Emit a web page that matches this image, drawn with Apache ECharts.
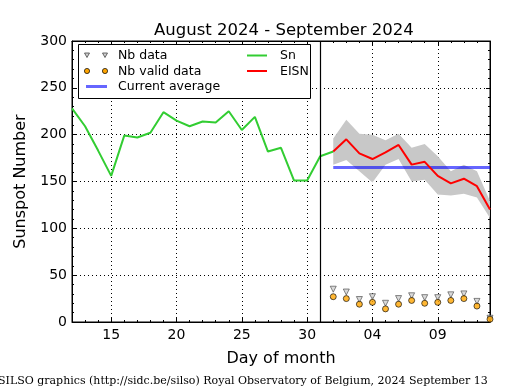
<!DOCTYPE html>
<html>
<head>
<meta charset="utf-8">
<script src="https://cdn.jsdelivr.net/npm/echarts@6/dist/echarts.min.js"></script>
<style>html,body{margin:0;padding:0;background:#fff;}#c{width:515px;height:390px;}</style>
</head>
<body>
<div id="c"></div>
<script>
// ---- data ----
const snDates = ['2024-08-12','2024-08-13','2024-08-14','2024-08-15','2024-08-16','2024-08-17','2024-08-18','2024-08-19','2024-08-20','2024-08-21','2024-08-22','2024-08-23','2024-08-24','2024-08-25','2024-08-26','2024-08-27','2024-08-28','2024-08-29','2024-08-30','2024-08-31','2024-09-01'];
const snValues = [228,209,183,156,199,197,202,224,215,209,214,213,225,205,219,182,186,151,151,177,182];

const eisnDates = ['2024-09-01','2024-09-02','2024-09-03','2024-09-04','2024-09-05','2024-09-06','2024-09-07','2024-09-08','2024-09-09','2024-09-10','2024-09-11','2024-09-12','2024-09-13'];
const eisnValues = [182,195,180,174,181,189,168,171,156,148,153,145,120];
const eisnUpper  = [196,216,201,200,194,201,186,190,177,161,168,161,129];
const eisnLower  = [168,173,161,149,168,174,150,152,136,135,137,133,111];
const nbData     = [35,32,24,27,20,25,28,26,26,29,30,22,4];
const nbValid    = [27,25,19,21,14,19,23,20,21,23,25,17,3];

const avgDates = ['2024-09-01','2024-09-13'];
const avgValue = 165;

const tickDates = ['2024-08-15','2024-08-20','2024-08-25','2024-08-30','2024-09-04','2024-09-09'];
const xStart = '2024-08-12', xEnd = '2024-09-13', splitDate = '2024-08-31';

// ---- helpers ----
function dayNum(s){ const p=s.split('-').map(Number); return Math.round((Date.UTC(p[0],p[1]-1,p[2])-Date.UTC(2024,6,31))/86400000); }
function fmt(v){ return v<=31 ? String(v) : String(v-31).padStart(2,'0'); }
const pair = (dates, vals) => dates.map((d,i)=>[dayNum(d), vals[i]]);
const xMin = dayNum(xStart), xMax = dayNum(xEnd);
const tickVals = tickDates.map(dayNum);
const FONT = 'DejaVu Sans';

const chart = echarts.init(document.getElementById('c'), null, {renderer:'canvas'});
const majorX = (pos, labels) => ({
  type:'value', position:pos, min:xMin, max:xMax,
  axisLine:{show:true, onZero:false, lineStyle:{color:'#000', width:1}},
  axisTick:{show:true, inside:true, length:4, customValues:tickVals, lineStyle:{color:'#000'}},
  axisLabel:{show:labels, customValues:tickVals, formatter:fmt, color:'#000', fontSize:14, fontFamily:FONT, margin:6},
  splitLine:{show:labels, lineStyle:{color:'#000', type:[1,3], width:1}},
  name: labels ? 'Day of month' : '', nameLocation:'middle', nameGap:29,
  nameTextStyle:{color:'#000', fontSize:16, fontFamily:FONT}
});
const minorX = (pos) => ({
  type:'value', position:pos, min:xMin, max:xMax, interval:1,
  axisLine:{show:false, onZero:false}, axisLabel:{show:false}, splitLine:{show:false},
  axisTick:{show:true, inside:true, length:2, lineStyle:{color:'#000'}}
});
const yAx = (pos, labels) => ({
  type:'value', position:pos, min:0, max:300, interval:50,
  axisLine:{show:true, onZero:false, lineStyle:{color:'#000', width:1}},
  axisTick:{show:true, inside:true, length:4, lineStyle:{color:'#000'}},
  minorTick:{show:true, splitNumber:5, length:2, lineStyle:{color:'#000'}},
  axisLabel:{show:labels, color:'#000', fontSize:14, fontFamily:FONT, margin:5},
  splitLine:{show:labels, lineStyle:{color:'#000', type:[1,3], width:1}},
  name: labels ? 'Sunspot Number' : '', nameLocation:'middle', nameGap:43,
  nameTextStyle:{color:'#000', fontSize:16, fontFamily:FONT}
});

// legend drawn as graphic (matplotlib-style box)
const LF = '12.5px "DejaVu Sans"';
const tri = (cx, cy) => ({type:'polygon', shape:{points:[[cx-2.5,cy-2],[cx+2.5,cy-2],[cx,cy+2.5]]}, style:{fill:'#d0d0d0', stroke:'#444', lineWidth:0.8}, z:11});
const dot = (cx, cy) => ({type:'circle', shape:{cx:cx, cy:cy, r:2.6}, style:{fill:'#ffa500', stroke:'#000', lineWidth:0.7}, z:11});
const seg = (x1, x2, y, color, w) => ({type:'line', shape:{x1:x1, y1:y, x2:x2, y2:y}, style:{stroke:color, lineWidth:w}, z:11});
const txt = (x, y, t) => ({type:'text', x:x, y:y, style:{text:t, font:LF, fill:'#000', verticalAlign:'middle'}, z:11});

chart.setOption({
  animation:false,
  backgroundColor:'#fff',
  title:{text:'August 2024 - September 2024', left:149, top:17,
    textStyle:{color:'#000', fontSize:16.5, fontWeight:'normal', fontFamily:FONT}},
  grid:{left:72, right:25, top:41, bottom:68, show:true, borderColor:'#000', borderWidth:1, backgroundColor:'transparent'},
  xAxis:[majorX('bottom',true), minorX('bottom'), majorX('top',false), minorX('top')],
  yAxis:[yAx('left',true), yAx('right',false)],
  graphic:[
    {type:'rect', shape:{x:78.5, y:44.5, width:232, height:54}, style:{fill:'#fff', stroke:'#000', lineWidth:1}, z:10},
    tri(87,55), tri(105,55), txt(118,56,'Nb data'),
    dot(87,71), dot(105,71), txt(118,72,'Nb valid data'),
    seg(86,107,86.5,'rgba(0,0,255,0.6)',3), txt(118,87,'Current average'),
    seg(247,267,55.5,'#32cd32',2), txt(280,56,'Sn'),
    seg(247,267,71,'#ff0000',2), txt(280,72,'EISN'),
    {type:'text', x:-2, y:376, style:{text:'SILSO graphics (http://sidc.be/silso) Royal Observatory of Belgium, 2024 September 13', font:'11px "DejaVu Serif"', fill:'#000'}}
  ],
  series:[
    {name:'EISN range', type:'custom', silent:true, z:1,
     data: eisnDates.map((d,i)=>[dayNum(d), eisnUpper[i], eisnLower[i]]),
     encode:{x:0, y:[1,2]},
     renderItem:(params, api)=>{
       if (params.dataIndex !== 0) return null;
       const pts = [];
       for (let i=0;i<eisnDates.length;i++) pts.push(api.coord([dayNum(eisnDates[i]), eisnUpper[i]]));
       for (let i=eisnDates.length-1;i>=0;i--) pts.push(api.coord([dayNum(eisnDates[i]), eisnLower[i]]));
       return {type:'polygon', shape:{points:pts}, style:{fill:'#c8c8c8'}};
     }},
    {name:'Sn', type:'line', data:pair(snDates, snValues), symbol:'none', color:'#32cd32',
     lineStyle:{color:'#32cd32', width:2}, z:3,
     markLine:{silent:true, symbol:'none', label:{show:false}, animation:false,
       lineStyle:{color:'#000', type:'solid', width:1.2}, data:[{xAxis:dayNum(splitDate)}]}},
    {name:'EISN', type:'line', data:pair(eisnDates, eisnValues), symbol:'none', color:'#ff0000',
     lineStyle:{color:'#ff0000', width:2}, z:4},
    {name:'Current average', type:'line', data:avgDates.map(d=>[dayNum(d), avgValue]), symbol:'none', color:'rgba(0,0,255,0.6)',
     lineStyle:{color:'rgba(0,0,255,0.6)', width:3}, z:3},
    {name:'Nb data', type:'scatter', data:pair(eisnDates, nbData), symbol:'triangle', symbolRotate:180, symbolSize:6,
     itemStyle:{color:'#d0d0d0', borderColor:'#444', borderWidth:0.8}, z:5},
    {name:'Nb valid data', type:'scatter', data:pair(eisnDates, nbValid), symbol:'circle', symbolSize:6,
     itemStyle:{color:'#ffa500', borderColor:'#000', borderWidth:0.8}, z:6}
  ]
});
</script>
</body>
</html>
